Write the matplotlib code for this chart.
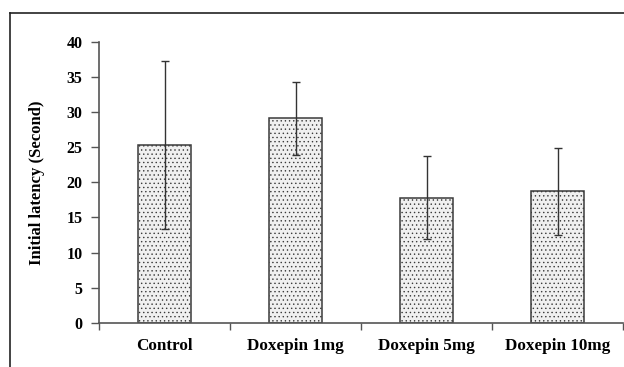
import matplotlib
matplotlib.use("Agg")
import matplotlib.pyplot as plt
from matplotlib.lines import Line2D
import numpy as np

categories = ["Control", "Doxepin 1mg", "Doxepin 5mg", "Doxepin 10mg"]
means = [25.3, 29.1, 17.8, 18.7]
errors = [12.0, 5.15, 5.9, 6.2]
yticks = [0, 5, 10, 15, 20, 25, 30, 35, 40]

plt.rcParams['font.family'] = ['Liberation Serif', 'DejaVu Serif']
plt.rcParams['font.weight'] = 'bold'
plt.rcParams['hatch.color'] = '#dadada'
plt.rcParams['hatch.linewidth'] = 0.5

W, H = 624, 367
fig = plt.figure(figsize=(W/100, H/100), dpi=100)
ax = fig.add_axes([99/W, 1-322.7/H, (623-99)/W, (322.7-42)/H])

x = np.arange(len(categories))
ax.bar(x, means, width=0.40, color='#f0f0f0', edgecolor='#3a3a3a', linewidth=1.1,
       hatch='....', zorder=2)
ax.errorbar(x, means, yerr=errors, fmt='none', ecolor='#333333', elinewidth=1.0,
            capsize=3, capthick=1.0, zorder=3)

ax.set_xlim(-0.5, len(categories)-0.5)
ax.set_ylim(0, 40)
ax.set_yticks(yticks)
ax.set_yticklabels([str(v) for v in yticks], fontsize=11.5, fontweight='bold')
ax.set_xticks(x)
ax.set_xticklabels(categories, fontsize=12.3, fontweight='bold')
ax.tick_params(axis='x', length=0, pad=11)
ax.set_xticks(np.arange(len(categories)+1)-0.5, minor=True)
ax.tick_params(axis='x', which='minor', length=5, width=1, color='#555555', direction='out')
ax.tick_params(axis='y', length=6, width=1, color='#555555', pad=6)

for s in ['top', 'right']:
    ax.spines[s].set_visible(False)
for s in ['left', 'bottom']:
    ax.spines[s].set_color('#555555')
    ax.spines[s].set_linewidth(1.2)

ax.set_ylabel("Initial latency (Second)", fontsize=12, fontweight='bold', labelpad=15)

# outer frame
fig.add_artist(Line2D([10/W, 10/W], [0, 1-13/H], transform=fig.transFigure, color='#222222', lw=1.2))
fig.add_artist(Line2D([10/W, 1], [1-13/H, 1-13/H], transform=fig.transFigure, color='#222222', lw=1.2))

fig.savefig("out.png", dpi=100)
